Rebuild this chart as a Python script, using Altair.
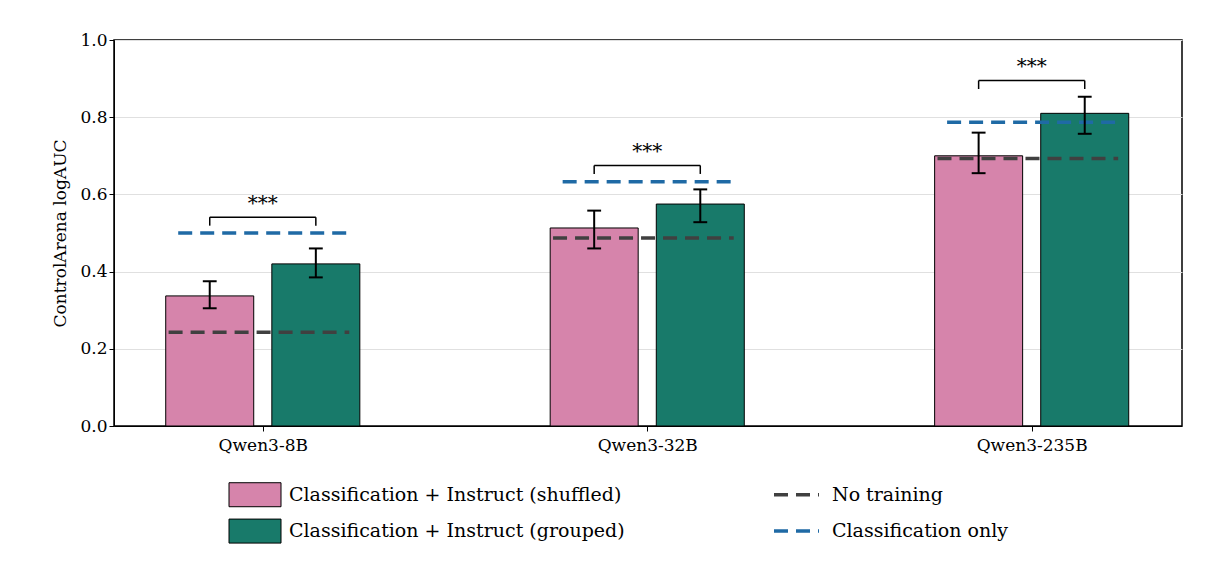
import altair as alt
import pandas as pd

models = ["Qwen3-8B", "Qwen3-32B", "Qwen3-235B"]
shuffled = [0.337, 0.513, 0.700]
shuffled_lo = [0.305, 0.460, 0.655]
shuffled_hi = [0.375, 0.558, 0.760]
grouped = [0.420, 0.575, 0.810]
grouped_lo = [0.385, 0.528, 0.757]
grouped_hi = [0.460, 0.613, 0.853]
no_training = [0.243, 0.487, 0.693]
class_only = [0.500, 0.633, 0.787]
bracket_y = [0.541, 0.675, 0.895]

FONT = "DejaVu Serif"
PINK = "#d684ab"
GREEN = "#187a6a"
DARK = "#404040"
BLUE = "#1f6aa5"
off = 0.138
xs = alt.Scale(domain=[-0.374, 2.378], nice=False, zero=False)

rows = []
for i, m in enumerate(models):
    rows.append(dict(x=i - off, v=shuffled[i], lo=shuffled_lo[i], hi=shuffled_hi[i], col=PINK))
    rows.append(dict(x=i + off, v=grouped[i], lo=grouped_lo[i], hi=grouped_hi[i], col=GREEN))
bars_df = pd.DataFrame(rows)

lines_df = pd.DataFrame(
    [dict(x=i - 0.245, x2=i + 0.225, v=no_training[i], col=DARK) for i in range(3)]
    + [dict(x=i - 0.22, x2=i + 0.225, v=class_only[i], col=BLUE) for i in range(3)]
)
br_df = pd.DataFrame(dict(
    x=[i - off for i in range(3)], x2=[i + off for i in range(3)],
    y=bracket_y, y0=[b - 0.022 for b in bracket_y], yt=[b + 0.035 for b in bracket_y],
    xm=[float(i) for i in range(3)], t=["***"] * 3))

X = alt.X("x:Q", scale=xs,
          axis=alt.Axis(values=[0, 1, 2], labelExpr="['Qwen3-8B','Qwen3-32B','Qwen3-235B'][datum.value]",
                        title=None, grid=False, labelPadding=6))
Y = alt.Y("v:Q", scale=alt.Scale(domain=[0, 1]),
          axis=alt.Axis(values=[0, 0.2, 0.4, 0.6, 0.8, 1.0], format=".1f", title="ControlArena logAUC",
                        titleFontWeight="normal", gridColor="#e0e0e0", titlePadding=10))

bars = alt.Chart(bars_df).mark_bar(size=88, stroke="black", strokeWidth=1).encode(
    X, Y, color=alt.Color("col:N", scale=None))
err = alt.Chart(bars_df).mark_rule(color="black", strokeWidth=2).encode(x="x:Q", y="lo:Q", y2="hi:Q")
caps = alt.Chart(bars_df).mark_rule(color="black", strokeWidth=2).encode(
    x=alt.X("xa:Q"), x2="xb:Q", y="lo:Q").transform_calculate(xa="datum.x-0.018", xb="datum.x+0.018")
caps2 = alt.Chart(bars_df).mark_rule(color="black", strokeWidth=2).encode(
    x=alt.X("xa:Q"), x2="xb:Q", y="hi:Q").transform_calculate(xa="datum.x-0.018", xb="datum.x+0.018")
dash = alt.Chart(lines_df).mark_rule(strokeWidth=3.5, strokeDash=[14, 8]).encode(
    x="x:Q", x2="x2:Q", y="v:Q", color=alt.Color("col:N", scale=None))
br_h = alt.Chart(br_df).mark_rule(color="black", strokeWidth=1.5).encode(x="x:Q", x2="x2:Q", y="y:Q")
br_l = alt.Chart(br_df).mark_rule(color="black", strokeWidth=1.5).encode(x="x:Q", y="y0:Q", y2="y:Q")
br_r = alt.Chart(br_df).mark_rule(color="black", strokeWidth=1.5).encode(x="x2:Q", y="y0:Q", y2="y:Q")
stars = alt.Chart(br_df).mark_text(fontSize=20, font=FONT, color="black").encode(x="xm:Q", y="yt:Q", text="t:N")

main = alt.layer(bars, dash, err, caps, caps2, br_h, br_l, br_r, stars).properties(
    width=1068, height=386, view=alt.ViewConfig(stroke="black", strokeWidth=1.5))

# manual legend
leg_names = ["Classification + Instruct (shuffled)", "Classification + Instruct (grouped)",
             "No training", "Classification only"]
leg_df = pd.DataFrame(dict(
    name=leg_names,
    kind=["box", "box", "line", "line"],
    col=[PINK, GREEN, DARK, BLUE],
    lx=[115, 115, 660, 660], lx2=[167, 167, 705, 705], tx=[175, 175, 718, 718],
    ly=[0, 1, 0, 1]))
lxs = alt.Scale(domain=[0, 1068], nice=False)
lys = alt.Scale(domain=[-0.9, 1.3], reverse=True)
boxes = alt.Chart(leg_df[leg_df.kind == "box"]).mark_rect(height=24, stroke="black", strokeWidth=1).encode(
    x=alt.X("lx:Q", scale=lxs, axis=None), x2="lx2:Q", y=alt.Y("ly:Q", scale=lys, axis=None),
    color=alt.Color("col:N", scale=None))
llines = alt.Chart(leg_df[leg_df.kind == "line"]).mark_rule(strokeWidth=3.5, strokeDash=[14, 8]).encode(
    x=alt.X("lx:Q", scale=lxs, axis=None), x2="lx2:Q", y=alt.Y("ly:Q", scale=lys, axis=None),
    color=alt.Color("col:N", scale=None))
ltext = alt.Chart(leg_df).mark_text(align="left", fontSize=19, font=FONT, color="black").encode(
    x=alt.X("tx:Q", scale=lxs, axis=None), y=alt.Y("ly:Q", scale=lys, axis=None), text="name:N")
legend = alt.layer(boxes, llines, ltext).properties(
    width=1068, height=80, view=alt.ViewConfig(stroke=None))

chart = alt.vconcat(main, legend, spacing=8).configure_axis(
    labelFont=FONT, titleFont=FONT, labelColor="black", titleColor="black",
    labelFontSize=17, titleFontSize=17,
    domainColor="black", tickColor="black", tickSize=5
).properties(padding={"left": 43, "top": 22, "right": 5, "bottom": 0})

chart.save("out.html", embed_options={"renderer": "svg", "actions": False})
